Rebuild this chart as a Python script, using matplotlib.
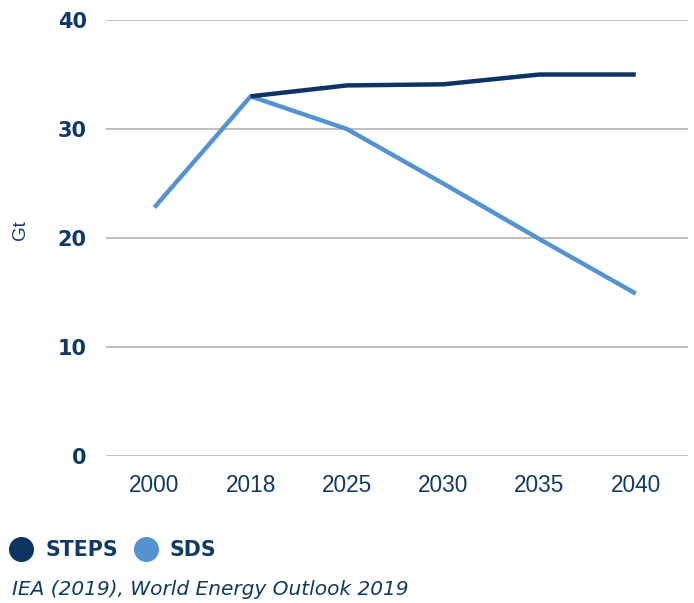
import matplotlib.pyplot as plt
from matplotlib import font_manager as fm
from matplotlib.lines import Line2D

# CO2 emissions by scenario (Gt)
years = ["2000", "2018", "2025", "2030", "2035", "2040"]
steps = [None, 33.0, 34.0, 34.1, 35.0, 35.0]
sds = [22.8, 33.0, 30.0, 25.0, 19.9, 14.9]
y_ticks = [0, 10, 20, 30, 40]

navy = "#0b3463"
light = "#5593d0"
text_col = "#0f3a68"

plt.rcParams["font.family"] = ["Liberation Sans", "DejaVu Sans"]
wide = "DejaVu Sans"  # broader face for the bold / italic texts

# pin the regular (not Narrow) Liberation Sans file for the year labels
regular = [f.fname for f in fm.fontManager.ttflist
           if f.name == "Liberation Sans" and f.style == "normal"
           and f.weight in (400, "normal", "regular") and "Narrow" not in f.fname]
year_font = fm.FontProperties(fname=regular[0]) if regular else fm.FontProperties(family="Liberation Sans")
year_font.set_size(16.3)

fig = plt.figure(figsize=(6.94, 6.03), dpi=100)
ax = fig.add_axes([0.153, 0.2438, 0.838, 0.723])

x = list(range(len(years)))
steps_x = [i for i, v in zip(x, steps) if v is not None]
steps_y = [v for v in steps if v is not None]

ax.plot(x, sds, color=light, lw=3.2, solid_capstyle="butt", zorder=3)
ax.plot(steps_x, steps_y, color=navy, lw=3.2, solid_capstyle="butt", zorder=4)

ax.set_xlim(-0.5, 5.54)
ax.set_ylim(0, 40)
ax.set_xticks(x)
ax.set_xticklabels(years, fontproperties=year_font)
ax.set_yticks(y_ticks)
ax.grid(axis="y", color="#b4b4b4", lw=1.2)
ax.set_axisbelow(True)
for s in ax.spines.values():
    s.set_visible(False)
ax.tick_params(length=0)
ax.tick_params(axis="x", labelcolor=text_col, pad=13)
ax.tick_params(axis="y", labelsize=15, labelcolor=text_col, pad=14)
for lbl in ax.get_yticklabels():
    lbl.set_fontweight("bold")
    lbl.set_family(wide)

fig.text(0.0295, 0.619, "Gt", fontsize=13.5, color=text_col, rotation=90,
         ha="center", va="center")

handles = [
    Line2D([], [], ls="none", marker="o", ms=17, color=navy, label="STEPS"),
    Line2D([], [], ls="none", marker="o", ms=17, color=light, label="SDS"),
]
leg = fig.legend(handles=handles, loc="center left", bbox_to_anchor=(0.013, 0.088),
                 ncol=2, frameon=False, handlelength=1.2, handletextpad=0.58,
                 columnspacing=0.73, borderpad=0, borderaxespad=0,
                 prop={"size": 14.8, "weight": "bold", "family": wide})
for t in leg.get_texts():
    t.set_color(text_col)

fig.text(0.018, 0.0216, "IEA (2019), World Energy Outlook 2019", fontsize=14.5,
         style="italic", family=wide, color=text_col, ha="left", va="center")

fig.savefig("out.png", dpi=100)
